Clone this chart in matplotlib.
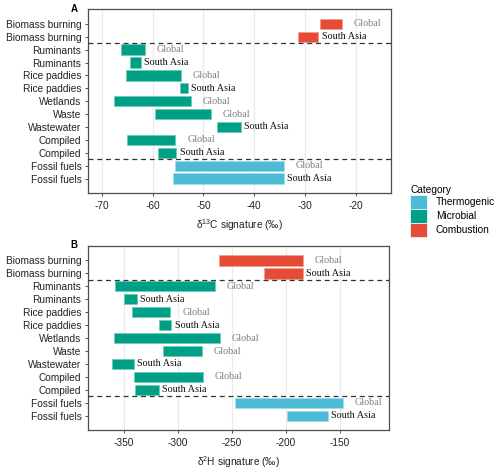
import matplotlib as mpl

mpl.use("Agg")
import matplotlib.pyplot as plt
from matplotlib.patches import Patch
import numpy as np

# rows listed top to bottom
sources = [
    "Biomass burning", "Biomass burning", "Ruminants", "Ruminants",
    "Rice paddies", "Rice paddies", "Wetlands", "Waste", "Wastewater",
    "Compiled", "Compiled", "Fossil fuels", "Fossil fuels",
]
regions = [
    "Global", "South Asia", "Global", "South Asia", "Global", "South Asia",
    "Global", "Global", "South Asia", "Global", "South Asia", "Global", "South Asia",
]
categories = [
    "Combustion", "Combustion", "Microbial", "Microbial", "Microbial", "Microbial",
    "Microbial", "Microbial", "Microbial", "Microbial", "Microbial",
    "Thermogenic", "Thermogenic",
]
d13c_low = [-27.0, -31.5, -66.3, -64.5, -65.2, -54.6, -67.6, -59.5, -47.4, -65.1, -58.9, -55.5, -56.0]
d13c_high = [-22.8, -27.4, -61.5, -62.3, -54.5, -53.0, -52.4, -48.6, -42.6, -55.5, -55.3, -34.2, -34.2]
d2h_low = [-262, -220, -358, -350, -343, -318, -359, -314, -361, -341, -340, -247, -199]
d2h_high = [-184, -184, -266, -338, -307, -306, -261, -278, -341, -277, -318, -147, -161]

category_order = ["Thermogenic", "Microbial", "Combustion"]
palette = {"Thermogenic": "#4DBBD5", "Microbial": "#00A087", "Combustion": "#E64B35"}
edge_tint = {"Thermogenic": "#9fdbe9", "Microbial": "#6fcbb9", "Combustion": "#f29a8e"}

sans = ["Liberation Sans", "DejaVu Sans"]
serif = ["Liberation Serif", "DejaVu Serif"]
plt.rcParams["font.family"] = sans
plt.rcParams["mathtext.fontset"] = "custom"
plt.rcParams["mathtext.rm"] = "Liberation Sans"
plt.rcParams["mathtext.it"] = "Liberation Sans:italic"

FS = 7.3
border = "#4D4D4D"


def draw_panel(ax, low, high, xlim, xticks, xlabel, tag):
    n = len(sources)
    y = np.arange(n, 0, -1)
    low = np.asarray(low, dtype=float)
    high = np.asarray(high, dtype=float)
    for ticks_x in xticks:
        ax.axvline(ticks_x, color="#EBEBEB", linewidth=1.0, zorder=0)
    ax.barh(
        y, high - low, left=low, height=0.8,
        color=[palette[c] for c in categories],
        edgecolor=[edge_tint[c] for c in categories],
        linewidth=0.5, zorder=2,
    )
    for yi, hi, reg in zip(y, high, regions):
        glob = reg == "Global"
        ax.annotate(
            reg, (hi, yi), xytext=(8.5 if glob else 2.2, 0), textcoords="offset points",
            ha="left", va="center", fontsize=FS, family=serif,
            color="#7F7F7F" if glob else "#111111", zorder=3,
        )
    for yd in (n - 1.5, 2.5):
        ax.axhline(yd, color="#333333", linewidth=0.9, linestyle=(0, (4, 3)), zorder=3)
    ax.set_xlim(*xlim)
    ax.set_ylim(1 - 1.1, n + 1.12)
    ax.set_xticks(xticks)
    ax.set_xticklabels([f"{t:g}" for t in xticks])
    ax.set_yticks(y)
    ax.set_yticklabels(sources)
    ax.tick_params(labelsize=FS, length=2.5, width=0.7, pad=2)
    ax.tick_params(axis="x", colors=border, labelcolor="#222222", pad=3.5)
    ax.tick_params(axis="y", colors=border, labelcolor="#222222")
    for sp in ax.spines.values():
        sp.set_color(border)
        sp.set_linewidth(0.9)
    ax.set_xlabel(xlabel, fontsize=FS, color="#222222", labelpad=4.5)
    ax.text(-0.045, 0.987, tag, transform=ax.transAxes, ha="center", va="baseline",
            fontsize=7, fontweight="bold")


fig = plt.figure(figsize=(5.0, 4.69), dpi=100)
ax_c = fig.add_axes([0.1754, 0.589, 0.606, 0.391])
ax_h = fig.add_axes([0.1754, 0.0832, 0.603, 0.3925])

draw_panel(ax_c, d13c_low, d13c_high, (-72.75, -13.2), [-70, -60, -50, -40, -30, -20],
           "δ$^{13}$C signature (‰)", "A")
draw_panel(ax_h, d2h_low, d2h_high, (-383.6, -104.4), [-350, -300, -250, -200, -150],
           "δ$^{2}$H signature (‰)", "B")

handles = [Patch(facecolor=palette[c], edgecolor="white", linewidth=0.5, label=c)
           for c in category_order]
leg = fig.legend(
    handles=handles, title="Category", loc="upper left",
    bbox_to_anchor=(0.812, 1 - 181 / 469), frameon=False, fontsize=FS,
    title_fontsize=FS, handlelength=1.65, handleheight=1.75, labelspacing=0.0,
    handletextpad=0.9, borderaxespad=0,
)
leg._legend_box.align = "left"

fig.savefig("out.png", dpi=100)
